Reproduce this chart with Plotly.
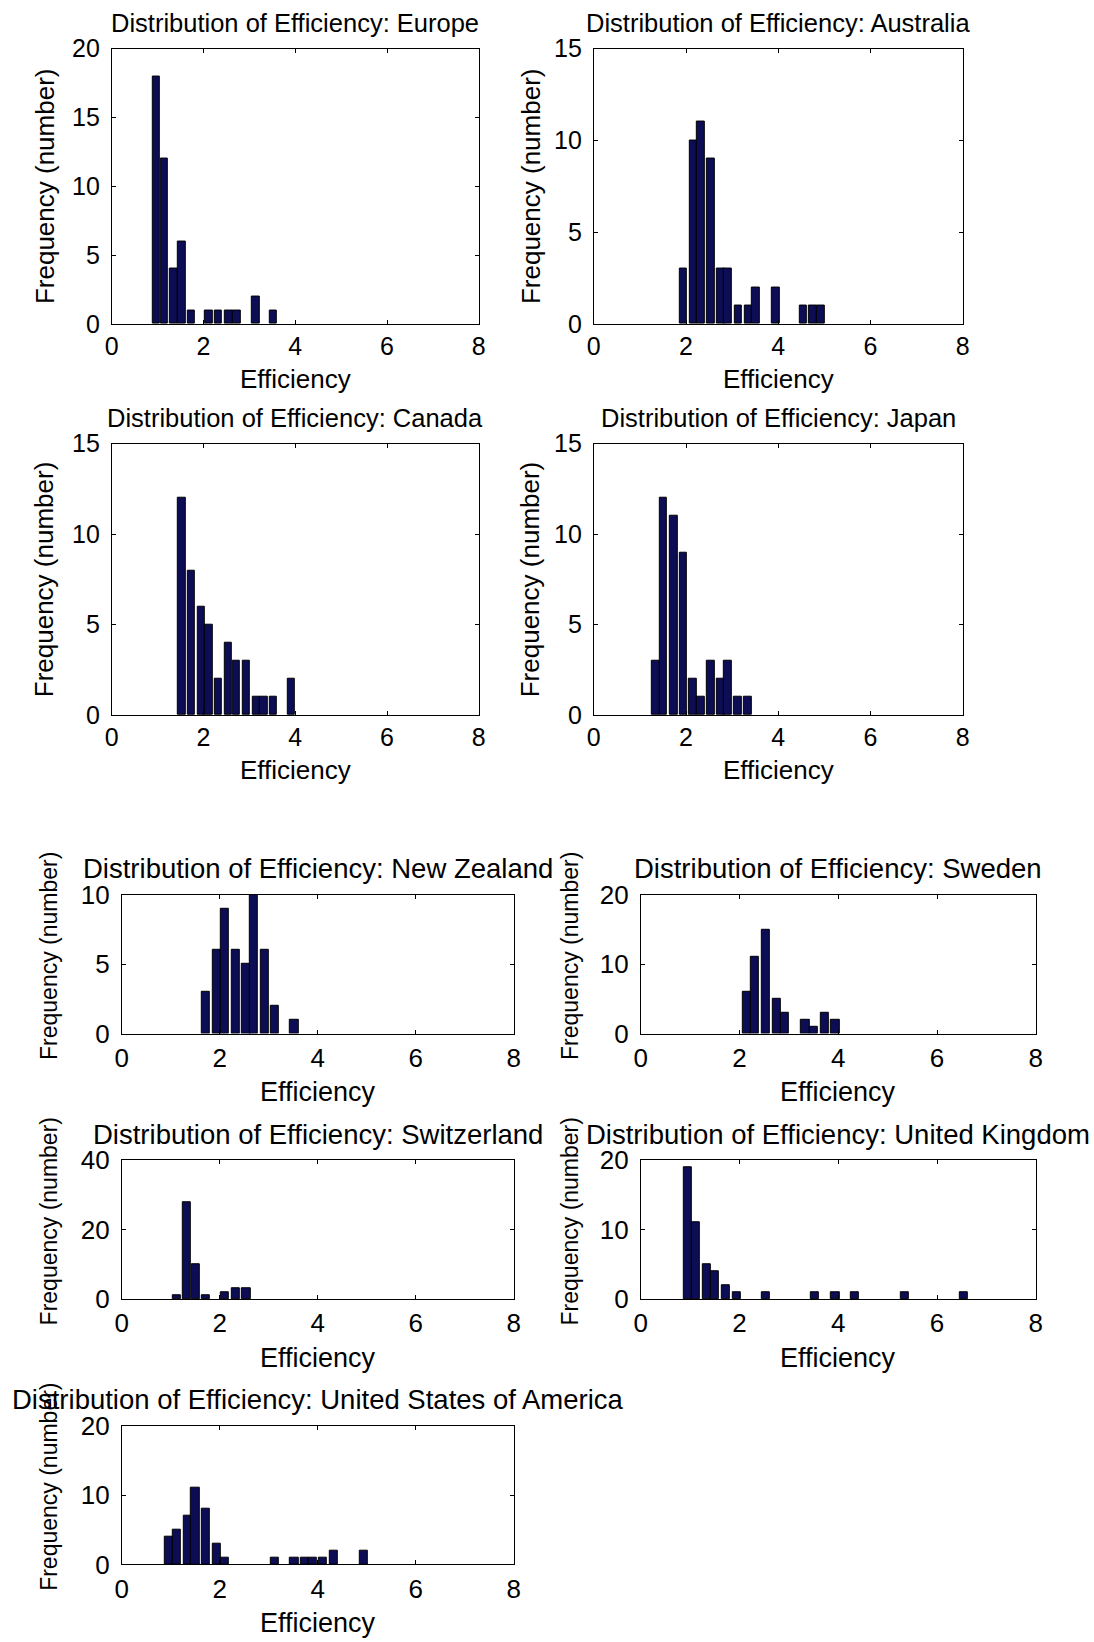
import plotly.graph_objects as go

# ---------------- data (bin centres and counts) ----------------
europe_x = [0.97, 1.14, 1.35, 1.52, 1.73, 2.12, 2.32, 2.55, 2.72, 3.14, 3.52]
europe_y = [18, 12, 4, 6, 1, 1, 1, 1, 1, 2, 1]

australia_x = [1.94, 2.16, 2.32, 2.53, 2.75, 2.91, 3.13, 3.35, 3.51, 3.95, 4.54, 4.75, 4.92]
australia_y = [3, 10, 11, 9, 3, 3, 1, 1, 2, 2, 1, 1, 1]

canada_x = [1.52, 1.73, 1.95, 2.11, 2.32, 2.54, 2.71, 2.93, 3.15, 3.31, 3.52, 3.91]
canada_y = [12, 8, 6, 5, 2, 4, 3, 3, 1, 1, 1, 2]

japan_x = [1.34, 1.51, 1.73, 1.94, 2.15, 2.32, 2.53, 2.75, 2.91, 3.12, 3.34]
japan_y = [3, 12, 11, 9, 2, 1, 3, 2, 3, 1, 1]

nz_x = [1.72, 1.94, 2.11, 2.32, 2.54, 2.70, 2.92, 3.13, 3.52]
nz_y = [3, 6, 9, 6, 5, 10, 6, 2, 1]

sweden_x = [2.15, 2.31, 2.53, 2.75, 2.91, 3.33, 3.50, 3.73, 3.94]
sweden_y = [6, 11, 15, 5, 3, 2, 1, 3, 2]

switzerland_x = [1.12, 1.33, 1.51, 1.72, 2.11, 2.32, 2.54]
switzerland_y = [1, 28, 10, 1, 2, 3, 3]

uk_x = [0.95, 1.12, 1.34, 1.50, 1.72, 1.94, 2.54, 3.52, 3.94, 4.33, 5.35, 6.55]
uk_y = [19, 11, 5, 4, 2, 1, 1, 1, 1, 1, 1, 1]

usa_x = [0.95, 1.12, 1.34, 1.50, 1.72, 1.94, 2.10, 3.13, 3.52, 3.74, 3.90, 4.11, 4.33, 4.93]
usa_y = [4, 5, 7, 11, 8, 3, 1, 1, 1, 1, 1, 1, 2, 2]

countries = ["Europe", "Australia", "Canada", "Japan", "New Zealand", "Sweden",
             "Switzerland", "United Kingdom", "United States of America"]
series_x = [europe_x, australia_x, canada_x, japan_x, nz_x, sweden_x,
            switzerland_x, uk_x, usa_x]
series_y = [europe_y, australia_y, canada_y, japan_y, nz_y, sweden_y,
            switzerland_y, uk_y, usa_y]
y_max = [20, 15, 15, 15, 10, 20, 40, 20, 20]
y_step = [5, 5, 5, 5, 5, 10, 20, 10, 10]
x_ticks = [0, 2, 4, 6, 8]

# ---------------- layout ----------------
W, H = 1094, 1642
# x0, x1, top, bottom, ylabel_x, xlabel_offset, big_font
boxes = [
    (112, 479, 47, 323, 45, 55, False),
    (594, 963, 47, 323, 531, 55, False),
    (112, 479, 443, 715, 45, 55, False),
    (594, 963, 443, 715, 531, 55, False),
    (122, 514, 895, 1034, 49, 59, True),
    (641, 1036, 895, 1034, 570, 59, True),
    (122, 514, 1161, 1300, 49, 59, True),
    (641, 1036, 1161, 1300, 570, 59, True),
    (122, 514, 1427, 1566, 49, 59, True),
]

FONT = "Liberation Sans, Arial, Helvetica, sans-serif"
BAR_FILL = "#0d0d56"

# calibration of box coordinates to figure pixels
def fx(x):
    return 1.013 * x - 7.3

def fy(y):
    return 1.0165 * y - 13.6

def px(x):
    return fx(x) / W

def py(y):
    return 1 - fy(y) / H

fig = go.Figure()
annotations = []
layout_axes = {}

for i, (name, xs, ys) in enumerate(zip(countries, series_x, series_y)):
    n = i + 1
    xa = "x" if n == 1 else f"x{n}"
    ya = "y" if n == 1 else f"y{n}"
    fig.add_trace(go.Bar(
        x=xs, y=ys, width=0.165, xaxis=xa, yaxis=ya,
        marker=dict(color=BAR_FILL, line=dict(color="black", width=1)),
        showlegend=False, hoverinfo="x+y",
    ))
    x0, x1, top, bot, ylx, xlo, big = boxes[i]
    tsize = 27.5 if big else 25.5
    lsize = 27 if big else 26
    ysize = 23 if big else 26
    ksize = 26 if big else 25
    common = dict(
        showline=True, linecolor="black", linewidth=1, mirror="ticks",
        ticks="inside", ticklen=4, tickcolor="black", tickwidth=1,
        showgrid=False, zeroline=False,
        tickfont=dict(family=FONT, size=ksize, color="black"),
    )
    xkey = "xaxis" if n == 1 else f"xaxis{n}"
    ykey = "yaxis" if n == 1 else f"yaxis{n}"
    layout_axes[xkey] = dict(
        common, domain=[px(x0), px(x1)], anchor=ya, range=[0, 8],
        tickvals=x_ticks, ticktext=[str(t) for t in x_ticks],
        ticklabelstandoff=1 if big else 0,
    )
    yt = list(range(0, y_max[i] + 1, y_step[i]))
    layout_axes[ykey] = dict(
        common, domain=[py(bot), py(top)], anchor=xa, range=[0, y_max[i]],
        tickvals=yt, ticktext=[str(t) for t in yt], ticklabelstandoff=6,
    )
    cx = (x0 + x1) / 2
    annotations.append(dict(
        text=f"Distribution of Efficiency: {name}", xref="paper", yref="paper",
        x=px(cx), y=py(top - 26), xanchor="center", yanchor="middle",
        showarrow=False, font=dict(family=FONT, size=tsize, color="black"),
    ))
    annotations.append(dict(
        text="Efficiency", xref="paper", yref="paper",
        x=px(cx), y=py(bot + xlo), xanchor="center", yanchor="middle",
        showarrow=False, font=dict(family=FONT, size=lsize, color="black"),
    ))
    ycen = (top + bot) / 2 - (8 if big else 0)
    annotations.append(dict(
        text="Frequency (number)", xref="paper", yref="paper",
        x=px(ylx), y=py(ycen), xanchor="center", yanchor="middle",
        textangle=-90, showarrow=False,
        font=dict(family=FONT, size=ysize, color="black"),
    ))

fig.update_layout(
    width=W, height=H, autosize=False,
    margin=dict(l=0, r=0, t=0, b=0),
    paper_bgcolor="white", plot_bgcolor="white",
    bargap=0, annotations=annotations, **layout_axes,
)

fig.write_html("out.html")
